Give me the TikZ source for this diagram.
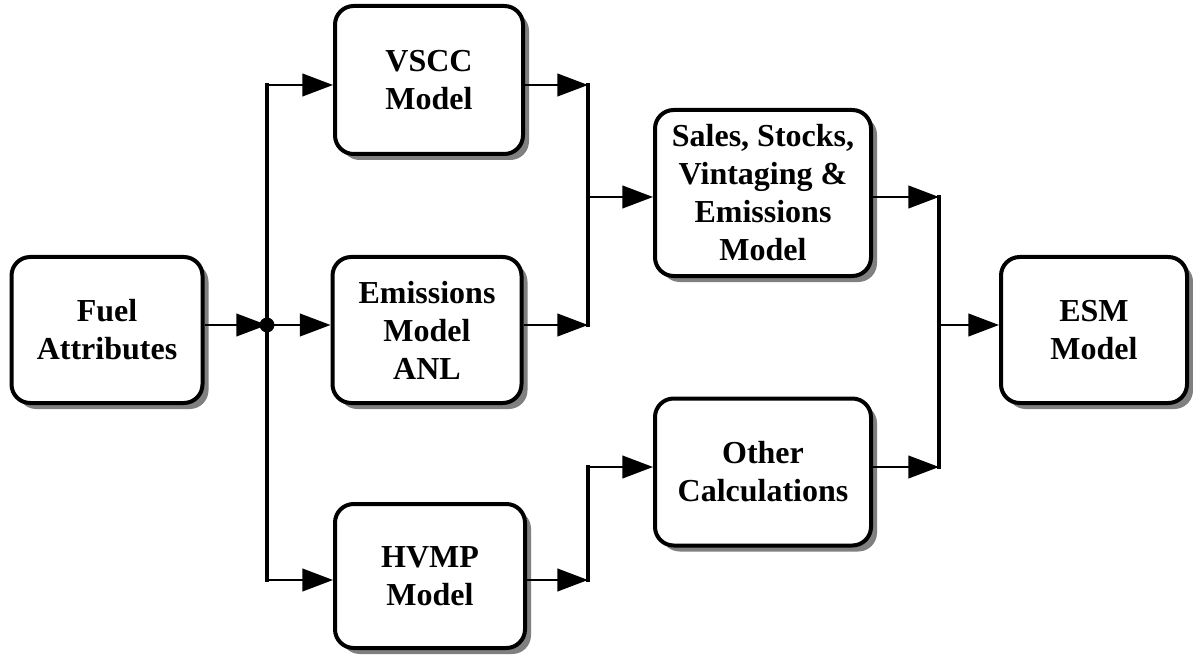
\documentclass[tikz,border=0pt]{standalone}
\usepackage{fontspec}
\setmainfont{Liberation Serif}
\usetikzlibrary{arrows.meta,shadows}
\begin{document}
\begin{tikzpicture}[x=0.75pt,y=-0.75pt,
  box/.style={draw,line width=3pt,rounded corners=14pt,fill=white,inner sep=0pt,
    align=center,font=\fontsize{24}{28.5}\selectfont\bfseries,
    drop shadow={shadow xshift=4.5pt,shadow yshift=-4.5pt,fill=black!50,opacity=1}},
  conn/.style={line width=1.5pt,-{Triangle[length=23pt,width=17pt]}},
  bar/.style={line width=3.5pt,line cap=rect}]
\useasboundingbox (0,0) rectangle (1193,656);
% boxes
\node[box,minimum width=191*0.75pt,minimum height=146*0.75pt] (fuel) at (107,330) {Fuel\\Attributes};
\node[box,minimum width=188*0.75pt,minimum height=148*0.75pt] (vscc) at (429,80) {VSCC\\Model};
\node[box,minimum width=189*0.75pt,minimum height=146*0.75pt] (emis) at (427,330) {Emissions\\Model\\ANL};
\node[box,minimum width=190*0.75pt,minimum height=144*0.75pt] (hvmp) at (430,576) {HVMP\\Model};
\node[box,minimum width=216*0.75pt,minimum height=166*0.75pt] (sales) at (763,193) {Sales, Stocks,\\Vintaging \&\\Emissions\\Model};
\node[box,minimum width=216*0.75pt,minimum height=147*0.75pt] (other) at (763,472) {Other\\Calculations};
\node[box,minimum width=186*0.75pt,minimum height=146*0.75pt] (esm) at (1094,330) {ESM\\Model};
% junction points
\coordinate (j) at (267,325);
\coordinate (jt) at (267,85);
\coordinate (jb) at (267,580);
\coordinate (b1t) at (588,85);
\coordinate (b1b) at (588,325);
\coordinate (b1m) at (588,197);
\coordinate (b2t) at (588,467);
\coordinate (b2b) at (588,580);
\coordinate (b3t) at (939,197);
\coordinate (b3b) at (939,467);
\coordinate (b3m) at (939,325);
% connectors
\draw[conn] (fuel.east |- j) -- (j);
\draw[bar] (jt) -- (jb);
\draw[conn] (jt) -- (vscc.west |- jt);
\draw[conn] (j) -- (emis.west |- j);
\draw[conn] (jb) -- (hvmp.west |- jb);
\draw[conn] (vscc.east |- b1t) -- (b1t);
\draw[conn] (emis.east |- b1b) -- (b1b);
\draw[bar] (b1t) -- (b1b);
\draw[conn] (b1m) -- (sales.west |- b1m);
\draw[conn] (hvmp.east |- b2b) -- (b2b);
\draw[bar] (b2t) -- (b2b);
\draw[conn] (b2t) -- (other.west |- b2t);
\draw[conn] (sales.east |- b3t) -- (b3t);
\draw[conn] (other.east |- b3b) -- (b3b);
\draw[bar] (b3t) -- (b3b);
\draw[conn] (b3m) -- (esm.west |- b3m);
\fill (j) circle (5.6pt);
\end{tikzpicture}
\end{document}
